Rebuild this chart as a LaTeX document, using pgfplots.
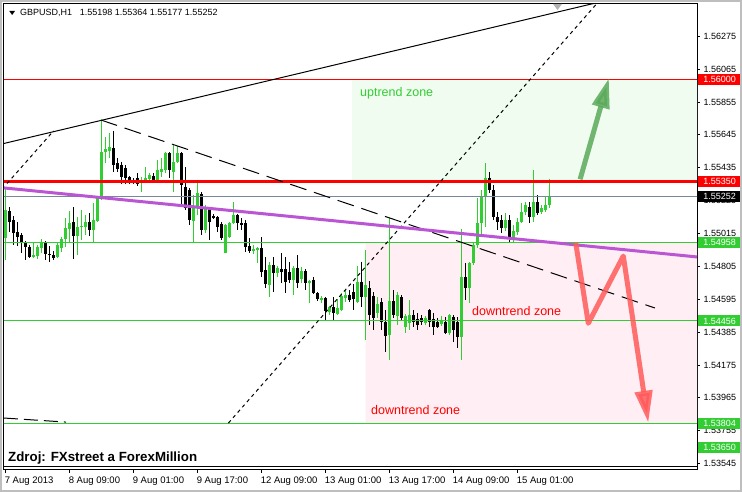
\documentclass[border=0pt]{standalone}
\usepackage{fontspec}
\setmainfont{Liberation Sans}
\usepackage{pgfplots}
\usepackage{pgfplotstable}
\pgfplotsset{compat=1.18}
\usetikzlibrary{arrows.meta}

\definecolor{bull}{RGB}{50,205,50}
\definecolor{zonegreen}{RGB}{240,252,240}
\definecolor{zonepink}{RGB}{255,238,243}
\definecolor{purp}{RGB}{186,85,211}
\definecolor{pricegrey}{RGB}{119,136,153}
\definecolor{arrowgreen}{RGB}{90,170,90}
\definecolor{arrowred}{RGB}{255,90,90}
\definecolor{winborder}{RGB}{190,190,190}

\pgfplotstableread{
i o h l c
0 1.54986 1.55306 1.54846 1.55165
7 1.54865 1.54954 1.54858 1.54878
8 1.54871 1.54942 1.54852 1.54929
9 1.54922 1.54980 1.54890 1.54961
13 1.54865 1.54954 1.54858 1.54942
14 1.54922 1.54993 1.54897 1.54980
15 1.54980 1.55114 1.54929 1.55050
16 1.55044 1.55159 1.54954 1.55082
18 1.54999 1.55120 1.54878 1.55057
19 1.55057 1.55165 1.54973 1.55065
20 1.55057 1.55133 1.55005 1.55088
22 1.55037 1.55210 1.54954 1.55101
23 1.55095 1.55254 1.55088 1.55242
24 1.55242 1.55740 1.55229 1.55536
25 1.55536 1.55632 1.55465 1.55555
26 1.55542 1.55657 1.55497 1.55568
34 1.55338 1.55376 1.55280 1.55357
35 1.55357 1.55440 1.55338 1.55370
36 1.55363 1.55401 1.55350 1.55389
38 1.55357 1.55485 1.55338 1.55421
39 1.55408 1.55497 1.55376 1.55427
40 1.55421 1.55536 1.55401 1.55529
42 1.55408 1.55580 1.55280 1.55472
43 1.55472 1.55574 1.55465 1.55529
47 1.55095 1.55261 1.54961 1.55184
48 1.55184 1.55344 1.55133 1.55274
50 1.55037 1.55197 1.55018 1.55178
55 1.54890 1.55076 1.54890 1.55069
56 1.54993 1.55088 1.54986 1.55082
57 1.55082 1.55216 1.55076 1.55133
62 1.54903 1.54942 1.54884 1.54916
63 1.54910 1.54929 1.54826 1.54922
66 1.54686 1.54833 1.54609 1.54814
68 1.54763 1.54807 1.54737 1.54795
72 1.54718 1.54807 1.54622 1.54795
74 1.54724 1.54801 1.54699 1.54775
76 1.54699 1.54718 1.54571 1.54712
79 1.54590 1.54616 1.54571 1.54603
81 1.54513 1.54552 1.54494 1.54545
83 1.54501 1.54597 1.54494 1.54539
84 1.54526 1.54635 1.54520 1.54616
85 1.54603 1.54654 1.54577 1.54622
88 1.54577 1.54807 1.54571 1.54705
90 1.54609 1.54910 1.54334 1.54686
93 1.54507 1.54609 1.54475 1.54564
96 1.54366 1.55114 1.54206 1.54584
98 1.54488 1.54641 1.54430 1.54622
100 1.54417 1.54501 1.54379 1.54488
101 1.54443 1.54590 1.54398 1.54494
105 1.54443 1.54488 1.54430 1.54475
109 1.54437 1.54488 1.54424 1.54462
111 1.54379 1.54501 1.54366 1.54494
114 1.54353 1.55044 1.54206 1.54737
116 1.54667 1.54833 1.54571 1.54826
117 1.54826 1.54954 1.54814 1.54942
118 1.54942 1.55242 1.54922 1.55082
119 1.55082 1.55293 1.55005 1.55248
120 1.55248 1.55465 1.55057 1.55370
125 1.55050 1.55146 1.55031 1.55101
127 1.54986 1.55069 1.54961 1.55031
128 1.55024 1.55114 1.55005 1.55088
129 1.55088 1.55210 1.55082 1.55152
130 1.55152 1.55216 1.55133 1.55197
132 1.55120 1.55421 1.55088 1.55216
134 1.55152 1.55197 1.55140 1.55178
135 1.55165 1.55248 1.55152 1.55197
136 1.55198 1.55364 1.55177 1.55252
}\bulltab

\pgfplotstableread{
i o h l c
1 1.55159 1.55184 1.55024 1.55088
2 1.55101 1.55127 1.54942 1.55018
3 1.55024 1.55088 1.54935 1.54993
4 1.55005 1.55018 1.54890 1.54954
5 1.54954 1.54967 1.54846 1.54929
6 1.54929 1.54942 1.54858 1.54865
10 1.54961 1.54967 1.54846 1.54884
11 1.54884 1.54935 1.54833 1.54878
12 1.54878 1.54903 1.54846 1.54858
17 1.55088 1.55184 1.54852 1.54999
21 1.55088 1.55146 1.54999 1.55037
27 1.55561 1.55670 1.55408 1.55453
28 1.55465 1.55497 1.55408 1.55427
29 1.55453 1.55472 1.55331 1.55376
30 1.55433 1.55453 1.55331 1.55370
31 1.55376 1.55382 1.55331 1.55350
32 1.55357 1.55370 1.55331 1.55338
33 1.55370 1.55401 1.55318 1.55331
37 1.55382 1.55401 1.55338 1.55357
41 1.55529 1.55536 1.55370 1.55421
44 1.55529 1.55536 1.55197 1.55325
45 1.55312 1.55440 1.55165 1.55178
46 1.55293 1.55306 1.55069 1.55101
49 1.55267 1.55280 1.55005 1.55037
51 1.55178 1.55184 1.54973 1.55088
52 1.55127 1.55140 1.55108 1.55114
53 1.55120 1.55127 1.55024 1.55057
54 1.55076 1.55088 1.54973 1.54986
58 1.55133 1.55140 1.55037 1.55082
59 1.55082 1.55114 1.55037 1.55069
60 1.55082 1.55101 1.54897 1.54929
61 1.54935 1.54986 1.54890 1.54903
64 1.54922 1.54993 1.54737 1.54769
65 1.54782 1.54865 1.54667 1.54692
67 1.54814 1.54865 1.54641 1.54763
69 1.54788 1.54890 1.54699 1.54769
70 1.54788 1.54865 1.54635 1.54705
71 1.54769 1.54833 1.54699 1.54718
73 1.54795 1.54878 1.54667 1.54699
75 1.54775 1.54788 1.54654 1.54699
77 1.54718 1.54737 1.54629 1.54635
78 1.54635 1.54641 1.54584 1.54597
80 1.54603 1.54609 1.54462 1.54520
82 1.54545 1.54609 1.54456 1.54507
86 1.54622 1.54654 1.54577 1.54590
87 1.54641 1.54692 1.54526 1.54597
89 1.54705 1.54833 1.54545 1.54609
91 1.54667 1.54712 1.54430 1.54494
92 1.54616 1.54641 1.54398 1.54475
94 1.54577 1.54603 1.54398 1.54449
95 1.54449 1.54526 1.54258 1.54360
97 1.54584 1.54654 1.54475 1.54494
99 1.54609 1.54622 1.54462 1.54475
102 1.54494 1.54526 1.54417 1.54449
103 1.54469 1.54507 1.54398 1.54430
104 1.54475 1.54494 1.54430 1.54449
106 1.54526 1.54533 1.54417 1.54449
107 1.54469 1.54507 1.54366 1.54417
108 1.54449 1.54475 1.54411 1.54417
110 1.54449 1.54481 1.54373 1.54379
112 1.54481 1.54494 1.54321 1.54398
113 1.54449 1.54481 1.54283 1.54353
115 1.54737 1.54826 1.54590 1.54667
121 1.55370 1.55408 1.55274 1.55293
122 1.55293 1.55325 1.55101 1.55120
123 1.55120 1.55152 1.55037 1.55088
124 1.55101 1.55133 1.55018 1.55050
126 1.55101 1.55133 1.54961 1.54986
131 1.55184 1.55216 1.55082 1.55120
133 1.55216 1.55261 1.55133 1.55146
}\beartab

% half-length in pt of a price span: 466pt / (1.56481-1.53504) / 2
\pgfplotsset{
  candlepart/.style n args={2}{only marks, mark=|, forget plot, scatter, point meta=\thisrow{i},
    scatter/use mapped color={draw=#1, fill=#1},
    mark options={solid, line width=#2},
    visualization depends on={\thisrow{sz} \as \csz},
    scatter/@pre marker code/.append style={/tikz/mark size=\csz}},
}

\begin{document}
\begin{tikzpicture}
\begin{axis}[
  scale only axis, width=693pt, height=466pt,
  xmin=-0.325, xmax=172.925, ymin=1.53504, ymax=1.56481,
  clip mode=individual,
  axis line style={black, line width=1pt},
  xtick={0,16,32,48,64,80,96,112,128},
  xticklabels={7 Aug 2013, 8 Aug 09:00, 9 Aug 01:00, 9 Aug 17:00, 12 Aug 09:00, 13 Aug 01:00, 13 Aug 17:00, 14 Aug 09:00, 15 Aug 01:00},
  ytick={1.53545,1.53755,1.53965,1.54175,1.54385,1.54595,1.54805,1.55015,1.55225,1.55435,1.55645,1.55855,1.56065,1.56275},
  yticklabels={1.53545,1.53755,1.53965,1.54175,1.54385,1.54595,1.54805,1.55015,1.55225,1.55435,1.55645,1.55855,1.56065,1.56275},
  scaled y ticks=false,
  xtick pos=bottom, ytick pos=right, yticklabel pos=right,
  tick align=outside, major tick length=3pt,
  tick style={black, line width=0.8pt},
  xticklabel style={anchor=north west, xshift=-4pt, font=\fontsize{9.5}{10}\selectfont},
  yticklabel style={anchor=west, font=\fontsize{9}{10}\selectfont},
]
% zones
\addplot[draw=none, fill=zonegreen, forget plot] coordinates {(86.7,1.55350) (175,1.55350) (175,1.56000) (86.7,1.56000) (86.7,1.55350)};
\addplot[draw=none, fill=zonepink, forget plot] coordinates {(90.05,1.53804) (175,1.53804) (175,1.54958) (90.05,1.54958) (90.05,1.53804)};

% candles: wicks (high-low) and bodies (open-close)
\addplot[candlepart={bull}{1pt}] table[x=i, y expr={(\thisrow{h}+\thisrow{l})/2},
   create on use/sz/.style={create col/expr={7826.6*(\thisrow{h}-\thisrow{l})}}] {\bulltab};
\addplot[candlepart={bull}{3pt}] table[x=i, y expr={(\thisrow{o}+\thisrow{c})/2},
   create on use/sz/.style={create col/expr={max(7826.6*abs(\thisrow{c}-\thisrow{o}),0.5)}}] {\bulltab};
\addplot[candlepart={black}{1pt}] table[x=i, y expr={(\thisrow{h}+\thisrow{l})/2},
   create on use/sz/.style={create col/expr={7826.6*(\thisrow{h}-\thisrow{l})}}] {\beartab};
\addplot[candlepart={black}{3pt}] table[x=i, y expr={(\thisrow{o}+\thisrow{c})/2},
   create on use/sz/.style={create col/expr={max(7826.6*abs(\thisrow{c}-\thisrow{o}),0.5)}}] {\beartab};

% horizontal levels
\addplot[red, line width=1pt, forget plot] coordinates {(-1,1.56000) (175,1.56000)};
\addplot[red, line width=3pt, forget plot] coordinates {(-1,1.55350) (175,1.55350)};
\addplot[pricegrey, line width=1pt, forget plot] coordinates {(-1,1.55252) (175,1.55252)};
\addplot[bull, line width=1pt, forget plot] coordinates {(-1,1.54958) (175,1.54958)};
\addplot[bull, line width=1pt, forget plot] coordinates {(-1,1.54456) (175,1.54456)};
\addplot[bull, line width=1pt, forget plot] coordinates {(-1,1.53804) (175,1.53804)};

% trend lines
\addplot[black, line width=1pt, forget plot] coordinates {(-1,1.55586) (150,1.56502)};
\addplot[black, line width=1pt, dash pattern=on 3.5pt off 3.5pt, forget plot] coordinates {(0.43,1.55334) (12.05,1.55670)};
\addplot[black, line width=1pt, dash pattern=on 3.5pt off 3.5pt, forget plot] coordinates {(55.78,1.53804) (149,1.56516)};
\addplot[black, line width=1pt, dash pattern=on 17pt off 8pt, forget plot] coordinates {(23.9,1.55740) (162.4,1.54539)};
\addplot[black, line width=1pt, dash pattern=on 14pt off 6pt, forget plot] coordinates {(-0.33,1.53836) (15.2,1.53810)};
\addplot[purp, line width=3pt, forget plot] coordinates {(-0.33,1.55306) (172.93,1.54865)};

% arrows
\addplot[arrowgreen, opacity=0.85, line width=5pt, -{Triangle[length=30pt,width=17pt]}, forget plot] coordinates {(143.7,1.55361) (150.9,1.56007)};
\addplot[arrowred, opacity=0.85, line width=5pt, line join=round, -{Triangle[length=32pt,width=17pt]}, forget plot] coordinates {(142.6,1.54956) (145.75,1.54441) (154.5,1.54871) (160.75,1.53806)};

\coordinate (bl) at (rel axis cs:0,0);
\coordinate (tl) at (rel axis cs:0,1);
\coordinate (br) at (rel axis cs:1,0);
\coordinate (tr) at (rel axis cs:1,1);
\coordinate (shiftmark) at (axis cs:138.05,1.56481);
\coordinate (L1) at (axis cs:172.925,1.56000);
\coordinate (L2) at (axis cs:172.925,1.55350);
\coordinate (L3) at (axis cs:172.925,1.55252);
\coordinate (L4) at (axis cs:172.925,1.54958);
\coordinate (L5) at (axis cs:172.925,1.54456);
\coordinate (L6) at (axis cs:172.925,1.53804);
\coordinate (L7) at (axis cs:172.925,1.53650);
\end{axis}
% texts and decorations
\fill[black] ([xshift=5.3pt,yshift=-7pt]tl) -- ++(5.7pt,0pt) -- ++(-2.85pt,-4pt) -- cycle;
\node[anchor=base west, inner sep=0pt, font=\fontsize{9}{10}\selectfont] at ([xshift=16pt,yshift=-12pt]tl) {GBPUSD,H1\hspace{5.2pt} 1.55198 1.55364 1.55177 1.55252};
\node[anchor=base west, inner sep=0pt, text=bull, font=\fontsize{12.5}{14}\selectfont] at ([xshift=356pt,yshift=-93pt]tl) {uptrend zone};
\node[anchor=base west, inner sep=0pt, text=red, font=\fontsize{12.5}{14}\selectfont] at ([xshift=468pt,yshift=-312pt]tl) {downtrend zone};
\node[anchor=base west, inner sep=0pt, text=red, font=\fontsize{12.5}{14}\selectfont] at ([xshift=367pt,yshift=-411pt]tl) {downtrend zone};
\node[anchor=base west, inner sep=0pt, font=\bfseries\fontsize{13.3}{15}\selectfont] at ([xshift=4pt,yshift=-458pt]tl) {Zdroj: FXstreet a ForexMillion};
\fill[gray!60] ([xshift=-4.5pt]shiftmark) -- ([xshift=4.5pt]shiftmark) -- ([yshift=-6pt]shiftmark) -- cycle;
\draw[black, line width=1pt] ([yshift=3pt]bl) -- ([yshift=3pt]br);
\tikzset{lbl/.style={anchor=west, xshift=1pt, inner sep=0pt, minimum width=43pt, minimum height=11pt, text=white, font=\fontsize{9}{10}\selectfont}}
\node[lbl, fill=red] at (L1) {1.56000};
\node[lbl, fill=red] at (L2) {1.55350};
\node[lbl, fill=black] at (L3) {1.55252};
\node[lbl, fill=bull] at (L4) {1.54958};
\node[lbl, fill=bull] at (L5) {1.54456};
\node[lbl, fill=bull] at (L6) {1.53804};
\node[lbl, fill=bull] at (L7) {1.53650};
\path[use as bounding box] ([xshift=-4pt,yshift=-22pt]bl) rectangle ([xshift=45pt,yshift=4pt]tr);
\draw[winborder, line width=2pt] ([xshift=-3pt,yshift=-21pt]bl) rectangle ([xshift=44pt,yshift=3pt]tr);
\end{tikzpicture}
\end{document}
